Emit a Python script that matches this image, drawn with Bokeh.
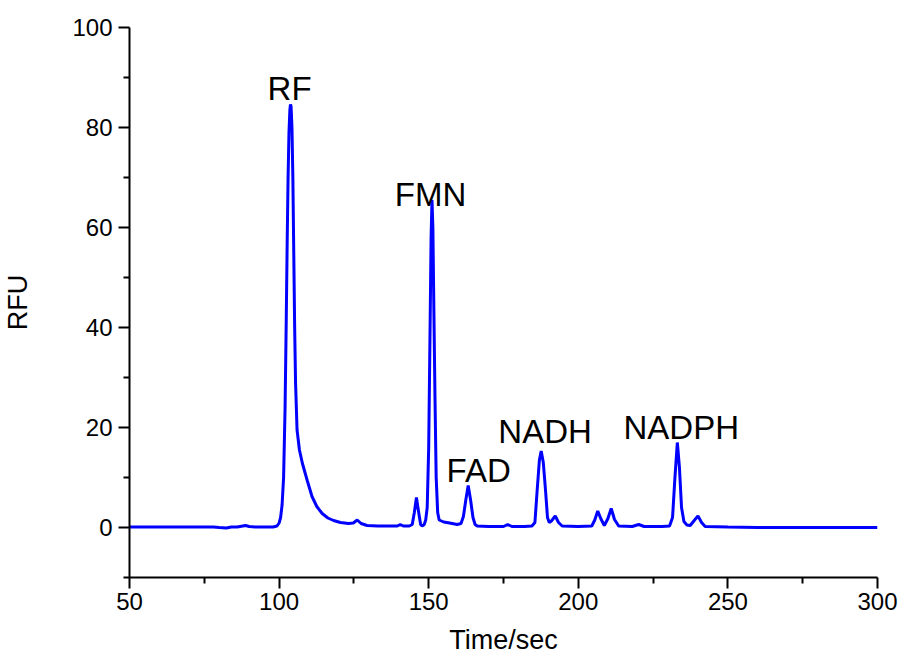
from bokeh.plotting import figure
from bokeh.models import ColumnDataSource, Range1d, FixedTicker
from bokeh.core.properties import value
from bokeh.embed import file_html
from bokeh.resources import INLINE

# Chromatogram trace
time_sec = [50, 60, 70, 78, 80, 82.4, 84, 86, 88.8, 90, 92, 95, 98, 99.3, 100.0, 100.5,
            101.0, 101.5, 102.0, 102.4, 102.7, 103.0, 103.3, 103.6, 103.8, 104.0, 104.3,
            104.6, 104.9, 105.2, 105.5, 106.0, 106.8, 107.8, 109.4, 111.0, 112.6, 114.4,
            116.3, 118.2, 120.5, 123.2, 124.8, 126.1, 127.4, 129.4, 133, 137, 139.5, 140.5,
            141.5, 143.5, 144.5, 145.2, 145.9, 146.6, 147.3, 147.8, 148.5, 149.0, 149.5,
            150.0, 150.5, 150.8, 151.1, 151.4, 151.7, 152.1, 152.5, 153.0, 153.5, 155, 157,
            159.5, 160.8, 161.6, 162.4, 163.2, 164.0, 164.8, 165.5, 166.2, 170, 175, 176.4,
            177.8, 182, 184.5, 185.5, 186.2, 187.0, 187.6, 188.3, 189.1, 189.7, 190.3,
            191.0, 192.3, 193.4, 194.6, 200, 204.5, 205.5, 206.5, 207.5, 208.7, 209.9,
            211.0, 212.1, 213.5, 218, 220.2, 222, 228, 230.5, 231.5, 232.3, 233.1, 233.8,
            234.5, 235.3, 236.3, 237.4, 238.6, 240.0, 241.2, 242.4, 250, 260, 270, 280,
            290, 300]
rfu = [0.1, 0.1, 0.1, 0.1, 0.0, -0.1, 0.1, 0.1, 0.4, 0.2, 0.1, 0.1, 0.1, 0.3, 0.9, 2.0,
       4.5, 10, 24, 42, 57, 70, 79, 83.5, 84.6, 84.2, 80,
       70, 55, 40, 29, 19.5, 15.5, 12.8, 9.4, 6.2, 4.2, 2.8,
       1.9, 1.4, 1.0, 0.8, 0.9, 1.5, 0.8, 0.4, 0.3, 0.3, 0.3, 0.6,
       0.3, 0.3, 0.6, 3.0, 6.0, 3.2, 0.6, 0.3, 0.6, 1.5, 4,
       16, 42, 58, 65.5, 60, 45, 26, 10, 3, 1.5, 1.1, 0.9,
       0.6, 0.8, 2.2, 5.5, 8.4, 5.5, 2.0, 0.6, 0.3, 0.2, 0.2, 0.6,
       0.2, 0.2, 0.3, 1.0, 7, 13.5, 15.3, 13, 7, 2, 1.0,
       1.3, 2.3, 1.0, 0.3, 0.2, 0.3, 1.5, 3.3, 1.8, 0.4, 1.8,
       3.8, 1.6, 0.3, 0.2, 0.6, 0.2, 0.2, 0.3, 2.0, 10, 17.0, 12,
       4, 1.2, 0.5, 0.4, 1.3, 2.3, 1.0, 0.2, 0.1, 0.0, 0.0, 0.0,
       0.0, 0.0]

peak_names = ["RF", "FMN", "FAD", "NADH", "NADPH"]
peak_label_x = [103.5, 150.6, 166.7, 188.9, 234.4]
peak_label_y = [87.8, 66.7, 11.5, 19.3, 20.0]

x_ticks = [50, 100, 150, 200, 250, 300]
x_minor = [75, 125, 175, 225, 275]
y_ticks = [0, 20, 40, 60, 80, 100]
y_minor = [-10, 10, 30, 50, 70, 90]

FONT = "Liberation Sans"

p = figure(width=900, height=660, output_backend="svg", toolbar_location=None,
           x_range=Range1d(50, 300), y_range=Range1d(-10, 100),
           min_border_left=129, min_border_right=23, min_border_top=27,
           min_border_bottom=83)
p.outline_line_color = None
p.grid.visible = False
p.background_fill_color = "white"
p.border_fill_color = "white"

p.line(time_sec, rfu, line_color="#0000FF", line_width=3)

src = ColumnDataSource(dict(x=peak_label_x, y=peak_label_y, t=peak_names))
p.text(x="x", y="y", text="t", source=src, text_align="center",
       text_baseline="alphabetic", text_font=value(FONT), text_font_size="33px",
       text_color="black")

for ax in (p.xaxis[0], p.yaxis[0]):
    ax.axis_line_color = "black"
    ax.axis_line_width = 2
    ax.major_tick_line_color = "black"
    ax.major_tick_line_width = 2
    ax.minor_tick_line_color = "black"
    ax.minor_tick_line_width = 2
    ax.major_tick_in = 0
    ax.minor_tick_in = 0
    ax.major_tick_out = 11
    ax.minor_tick_out = 6
    ax.major_label_text_font = FONT
    ax.major_label_text_font_size = "24px"
    ax.major_label_text_color = "black"
    ax.axis_label_text_font = FONT
    ax.axis_label_text_font_style = "normal"
    ax.axis_label_text_color = "black"
    ax.axis_label_text_font_size = "27px"

p.xaxis.ticker = FixedTicker(ticks=x_ticks, minor_ticks=x_minor)
p.yaxis.ticker = FixedTicker(ticks=y_ticks, minor_ticks=y_minor)
p.xaxis.major_label_standoff = 4
p.yaxis.major_label_standoff = 6
p.xaxis.axis_label = "Time/sec"
p.xaxis.axis_label_standoff = 12
p.yaxis.axis_label = "RFU"
p.yaxis.axis_label_standoff = 36

open("out.html", "w").write(file_html(p, INLINE))
